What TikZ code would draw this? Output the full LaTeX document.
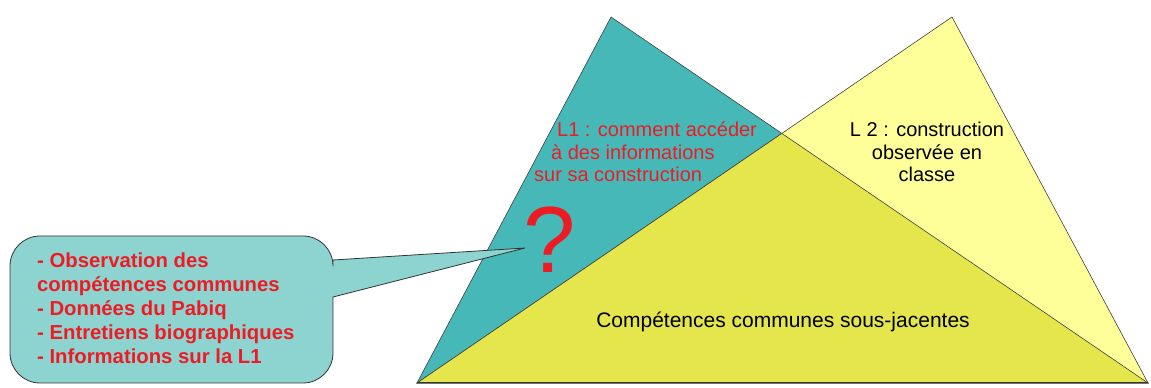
\documentclass[tikz,border=0pt]{standalone}
\usepackage{fontspec}
\setmainfont{Liberation Sans}
\usepackage{tikz}
\usetikzlibrary{positioning}

\definecolor{sarcelle}{RGB}{71,184,184}
\definecolor{sarcelleclair}{RGB}{141,211,207}
\definecolor{jaunepale}{RGB}{255,255,153}
\definecolor{jaunefonce}{RGB}{229,229,76}
\definecolor{rouge}{RGB}{237,28,36}

\begin{document}
\begin{tikzpicture}[x=1pt, y=1pt,
    triangle/.style={draw=black!75, line width=0.6pt},
    texte/.style={inner sep=0, font=\fontsize{20}{22.5}\selectfont}]
    \useasboundingbox (0,0) rectangle (1151,388);

    % sommets des triangles
    \coordinate (baseG) at (417,5);
    \coordinate (baseD) at (1148,5);
    \coordinate (sommetL1) at (611,371);
    \coordinate (sommetL2) at (952,371);
    \coordinate (milieu) at (intersection of sommetL1--baseD and baseG--sommetL2);

    \filldraw [triangle, fill=sarcelle] (baseG) -- (sommetL1) -- (baseD) -- cycle;
    \filldraw [triangle, fill=jaunepale] (baseG) -- (sommetL2) -- (baseD) -- cycle;
    \filldraw [triangle, fill=jaunefonce] (baseG) -- (milieu) -- (baseD) -- cycle;
    \draw [black!80, line width=1pt] (baseG) -- (baseD);

    % bulle
    \coordinate (pointe) at (525,140);
    \filldraw [draw=black!80, line width=0.8pt, fill=sarcelleclair]
        (333,128) -- (pointe) -- (333,91) -- (333,35)
        arc[start angle=0, end angle=-90, radius=30] -- (40,5)
        arc[start angle=-90, end angle=-180, radius=30] -- (10,122)
        arc[start angle=180, end angle=90, radius=30] -- (303,152)
        arc[start angle=90, end angle=0, radius=30] -- cycle;

    \node [anchor=west, inner sep=0, align=left, text=rouge,
        font=\bfseries\fontsize{20.3}{24}\selectfont
    ] (sources) at (37,80) {
        - Observation des\\
        compétences communes\\
        - Données du Pabiq\\
        - Entretiens biographiques\\
        - Informations sur la L1
    };

    \node [inner sep=0, text=rouge,
        font=\fontsize{94}{94}\selectfont
    ] (question) at (550,148) {?};

    \node [texte, anchor=west, align=left, text=rouge] (lun) at (534,236) {
        \hspace*{23pt}L1 : comment accéder\\
        \hspace*{17pt}à des informations\\
        sur sa construction
    };

    \node [texte, align=center] (ldeux) at (927,236) {
        L 2 : construction\\
        observée en\\
        classe
    };

    \node [texte, font=\fontsize{21}{24}\selectfont] (communes) at (783,66)
        {Compétences communes sous-jacentes};
\end{tikzpicture}
\end{document}
